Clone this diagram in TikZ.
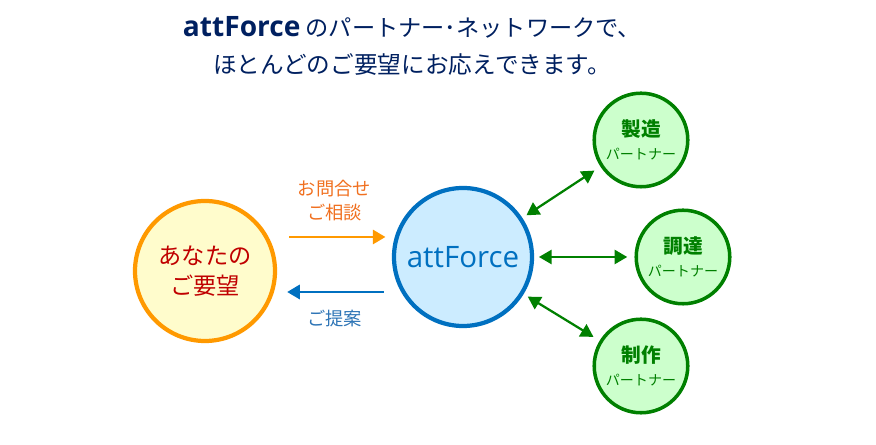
\documentclass[tikz,border=0pt]{standalone}
\usepackage{fontspec}
\setmainfont{Noto Sans CJK JP}
\newfontfamily\latinfont{Open Sans}
\usetikzlibrary{arrows.meta, positioning}

\definecolor{navy}{HTML}{002060}
\definecolor{wineRed}{HTML}{C00000}
\definecolor{askOrange}{HTML}{FF9900}
\definecolor{askText}{HTML}{F07020}
\definecolor{offerBlue}{HTML}{0070C0}
\definecolor{offerText}{HTML}{2E75B6}
\definecolor{hubFill}{HTML}{CCECFF}
\definecolor{partGreen}{HTML}{008000}
\definecolor{partFill}{HTML}{CCFFCC}

\begin{document}
\begin{tikzpicture}[
    you/.style={circle, draw=askOrange, fill=yellow!20, line width=3pt, minimum size=3.5cm, align=center, text=wineRed, font=\fontsize{16.5}{21}\selectfont},
    hub/.style={circle, draw=offerBlue, fill=hubFill, line width=3pt, minimum size=3.45cm, text=offerBlue, font=\latinfont\fontsize{21}{24}\selectfont},
    partner/.style={circle, draw=partGreen, fill=partFill, line width=2.5pt, minimum size=2.25cm, align=center, text=partGreen, font=\bfseries\fontsize{14}{18}\selectfont},
    ask/.style={-{Triangle[length=9pt, width=10pt]}, line width=2pt, draw=askOrange},
    offer/.style={-{Triangle[length=9pt, width=10pt]}, line width=2pt, draw=offerBlue},
    link/.style={{Triangle[length=9pt, width=10pt]}-{Triangle[length=9pt, width=10pt]}, line width=1.6pt, draw=partGreen, shorten <=0.12cm, shorten >=0.18cm}
]
\useasboundingbox (0,0) rectangle (21.9,11.125);

% -- Heading --
\node[text=navy, font=\fontsize{16.5}{20}\selectfont] (head1) at (10.3,10.45) {{\latinfont\bfseries\fontsize{20}{24}\selectfont attForce} のパートナー･ネットワークで、};
\node[text=navy, font=\fontsize{16.8}{20}\selectfont] (head2) at (10.3,9.5) {ほとんどのご要望にお応えできます。};

% -- Circles --
\node[you] (req) at (5.125,4.35) {あなたの\\ご要望};
\node[hub] (att) at (11.575,4.7) {attForce};
\node[partner] (mfg) at (16.025,7.625) {製造\\[-2pt]{\mdseries\fontsize{10}{12}\selectfont パートナー}};
\node[partner] (buy) at (17.075,4.7) {調達\\[-2pt]{\mdseries\fontsize{10}{12}\selectfont パートナー}};
\node[partner] (make) at (16.025,1.975) {制作\\[-2pt]{\mdseries\fontsize{10}{12}\selectfont パートナー}};

% -- Request / proposal arrows --
\coordinate (askY) at (0,5.2);
\coordinate (offerY) at (0,3.825);
\draw[ask, shorten <=0.3cm, shorten >=0.16cm] (req.east |- askY) -- node[above=0.25cm, align=center, text=askText, font=\fontsize{13}{17}\selectfont]{お問合せ\\ご相談} (att.west |- askY);
\draw[offer, shorten <=0.2cm, shorten >=0.25cm] (att.west |- offerY) -- node[below=0.3cm, text=offerText, font=\fontsize{13}{17}\selectfont]{ご提案} (req.east |- offerY);

% -- Partner links --
\draw[link] (att) -- (mfg);
\draw[link] (att) -- (buy);
\draw[link] (att) -- (make);

\end{tikzpicture}
\end{document}
